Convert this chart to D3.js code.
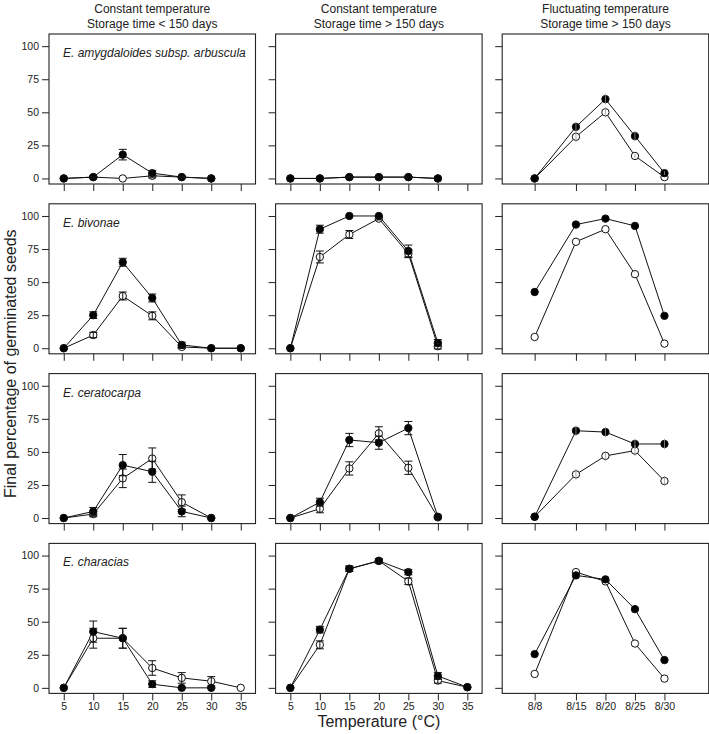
<!DOCTYPE html>
<html>
<head>
<meta charset="utf-8">
<script src="https://cdnjs.cloudflare.com/ajax/libs/d3/7.8.5/d3.min.js"></script>
<style>
  body { margin: 0; background: #fff; }
  svg text { font-family: "Liberation Sans", Arial, sans-serif; fill: #222; }
</style>
</head>
<body>
<div class="container"></div>
<script>
const SPECIES = ["E. amygdaloides subsp. arbuscula", "E. bivonae", "E. ceratocarpa", "E. characias"];
const COL_TITLES = [
  ["Constant temperature", "Storage time < 150 days"],
  ["Constant temperature", "Storage time > 150 days"],
  ["Fluctuating temperature", "Storage time > 150 days"]
];
const CONST_TEMPS = [5, 10, 15, 20, 25, 30, 35];
const FLUCT_POS = [8, 15, 20, 25, 30];
const FLUCT_LABELS = ["8/8", "8/15", "8/20", "8/25", "8/30"];
const Y_TICKS = [0, 25, 50, 75, 100];

// column 1: constant temperature, storage < 150 days (null = not tested)
const FILLED_C1 = [
  [0, 1, 18, 4, 1, 0, null],
  [0, 25, 65, 38, 2.5, 0, 0],
  [0, 5, 40, 35, 5, 0, null],
  [0, 42.5, 37.5, 2.8, 0, 0, null]
];
const FILLED_C1_SE = [
  [0, 0.8, 4, 2, 0.8, 0, null],
  [0, 2.5, 3, 3, 2, 0, 0],
  [0, 3, 8, 8, 4, 0, null],
  [0, 8, 7.5, 2.5, 0.5, 0.5, null]
];
const OPEN_C1 = [
  [0, 1, 0, 2, 1, 0, null],
  [0, 10, 39.5, 24.5, 1, 0, 0],
  [0, 3, 30, 45, 12, 0, null],
  [0, 37.5, 37.5, 15, 7.5, 5, 0]
];
const OPEN_C1_SE = [
  [0, 0.5, 0, 1.5, 0.5, 0, null],
  [0, 2, 3, 3, 1, 0, 0],
  [0, 2, 7, 8, 5.5, 0, null],
  [0, 7.5, 7.5, 5.5, 4, 3.5, 0]
];

// column 2: constant temperature, storage > 150 days
const FILLED_C2 = [
  [0, 0, 1, 1, 1, 0, null],
  [0, 90, 100, 100, 73.5, 4, null],
  [0, 12, 59, 57, 68, 1, null],
  [0, 44, 90, 96, 87.5, 9, 0.5]
];
const FILLED_C2_SE = [
  [0, 0, 0.5, 0.5, 0.5, 0, null],
  [0, 3, 0, 0, 4.5, 2.5, null],
  [0, 3, 5, 5, 5, 1, null],
  [0, 2.5, 2, 1.5, 2, 2.5, 0]
];
const OPEN_C2 = [
  [0, 0, 1, 1, 1, 0, null],
  [0, 69, 86, 98, 71.5, 1.5, null],
  [0, 7, 37.5, 64, 38, 0.5, null],
  [0, 32.5, 90, 96, 80.5, 5.5, 0.5]
];
const OPEN_C2_SE = [
  [0, 0, 0.5, 0.5, 0.5, 0, null],
  [0, 4.5, 3, 1, 3, 2, null],
  [0, 3, 5, 5, 5, 1, null],
  [0, 3, 2, 1.5, 2.5, 2, 0]
];

// column 3: fluctuating temperature, storage > 150 days
const FILLED_C3 = [
  [0, 39, 60, 32, 4],
  [42.5, 93.5, 98, 92.5, 24.5],
  [1, 66, 65, 56, 56],
  [25.5, 85, 82, 59.5, 21]
];
const FILLED_C3_SE = [
  [0, 3.5, 3.5, 3.5, 1],
  [0, 0, 0, 0, 0],
  [0, 3.5, 3.5, 3.5, 3.5],
  [0, 0, 0, 0, 0]
];
const OPEN_C3 = [
  [0, 31.5, 50, 17, 1],
  [8.5, 80.5, 90, 56, 3.5],
  [1, 33, 47, 51, 28],
  [10.5, 87.5, 80.5, 33.5, 7]
];
const OPEN_C3_SE = [
  [0, 3.5, 3.5, 1, 0],
  [0, 0, 0, 0, 0],
  [0, 3.5, 3.5, 3.5, 3.5],
  [0, 0, 0, 0, 0]
];

const W = 709, H = 734;
const PANEL_W = 206.5, PANEL_H = 150;
const COL_X = [49, 275.6, 502.2];
const ROW_Y = [34, 203.8, 373.6, 543.4];
const R = 3.7;

const svg = d3.select(".container").append("svg")
  .attr("width", W)
  .attr("height", H);

// helper to zip x positions with means/se, skipping untested temps
function points(xs, mean, se) {
  return xs.map((x, i) => ({x: x, y: mean[i], se: se[i]})).filter(d => d.y !== null);
}

const COLS = [
  {xs: CONST_TEMPS, ticks: CONST_TEMPS, labels: CONST_TEMPS.map(String), filled: FILLED_C1, filledSe: FILLED_C1_SE, open: OPEN_C1, openSe: OPEN_C1_SE, cap: 4, ebColor: "#111"},
  {xs: CONST_TEMPS, ticks: CONST_TEMPS, labels: CONST_TEMPS.map(String), filled: FILLED_C2, filledSe: FILLED_C2_SE, open: OPEN_C2, openSe: OPEN_C2_SE, cap: 4, ebColor: "#111"},
  {xs: FLUCT_POS, ticks: FLUCT_POS, labels: FLUCT_LABELS, filled: FILLED_C3, filledSe: FILLED_C3_SE, open: OPEN_C3, openSe: OPEN_C3_SE, cap: 0.5, ebColor: "#999"}
];

COLS.forEach((col, c) => {
  // column titles
  svg.append("text")
    .attr("x", COL_X[c] + PANEL_W / 2)
    .attr("y", 13)
    .attr("text-anchor", "middle")
    .attr("font-size", "12px")
    .text(COL_TITLES[c][0]);
  svg.append("text")
    .attr("x", COL_X[c] + PANEL_W / 2)
    .attr("y", 28)
    .attr("text-anchor", "middle")
    .attr("font-size", "12px")
    .text(COL_TITLES[c][1]);

  SPECIES.forEach((sp, r) => {
    let x0 = COL_X[c], y0 = ROW_Y[r];
    let x = d3.scaleLinear().domain([2.5, 37.5]).range([x0, x0 + PANEL_W]);
    let y = d3.scaleLinear().domain([-4.2, 109.2]).range([y0 + PANEL_H, y0]);

    let g = svg.append("g");

    // axes
    let yAxis = g.append("g")
      .attr("transform", `translate(${x0},0)`)
      .call(d3.axisLeft(y).tickValues(Y_TICKS).tickSize(7).tickPadding(3)
        .tickFormat(c === 0 ? d3.format("d") : ""));
    let xAxis = g.append("g")
      .attr("transform", `translate(0,${y0 + PANEL_H})`)
      .call(d3.axisBottom(x).tickValues(col.ticks).tickSize(7).tickPadding(2)
        .tickFormat((d, i) => r === SPECIES.length - 1 ? col.labels[i] : ""));
    [yAxis, xAxis].forEach(a => {
      a.select(".domain").remove();
      a.selectAll("line").attr("stroke", "#222");
      a.selectAll("text").attr("font-size", "10.5px").attr("fill", "#222")
        .attr("font-family", "'Liberation Sans', Arial, sans-serif");
    });

    g.append("rect")
      .attr("x", x0).attr("y", y0)
      .attr("width", PANEL_W).attr("height", PANEL_H)
      .attr("fill", "none")
      .attr("stroke", "#222")
      .attr("stroke-width", 1.1);

    // species label
    if (c === 0) {
      g.append("text")
        .attr("x", x0 + 14)
        .attr("y", y0 + 23)
        .attr("font-size", "12px")
        .attr("font-style", "italic")
        .text(sp);
    }

    let series = [
      {pts: points(col.xs, col.open[r], col.openSe[r]), fill: "#fff"},
      {pts: points(col.xs, col.filled[r], col.filledSe[r]), fill: "#000"}
    ];

    let line = d3.line().x(d => x(d.x)).y(d => y(d.y));

    series.forEach(s => {
      g.append("path")
        .datum(s.pts)
        .attr("d", line)
        .attr("fill", "none")
        .attr("stroke", "#111")
        .attr("stroke-width", 1);
    });

    series.forEach(s => {
      g.append("g").selectAll("circle")
        .data(s.pts)
        .enter().append("circle")
        .attr("cx", d => x(d.x))
        .attr("cy", d => y(d.y))
        .attr("r", R)
        .attr("fill", s.fill)
        .attr("stroke", "#111")
        .attr("stroke-width", 1);
    });

    // error bars sit on top of the symbols (drawn last)
    series.forEach(s => {
      let eb = g.append("g").selectAll("g")
        .data(s.pts.filter(d => d.se > 0))
        .enter().append("g")
        .attr("stroke", col.ebColor)
        .attr("stroke-width", c === 2 ? 0.8 : 1);
      eb.append("line")
        .attr("x1", d => x(d.x)).attr("x2", d => x(d.x))
        .attr("y1", d => y(d.y - d.se)).attr("y2", d => y(d.y + d.se));
      eb.append("line")
        .attr("x1", d => x(d.x) - col.cap).attr("x2", d => x(d.x) + col.cap)
        .attr("y1", d => y(d.y + d.se)).attr("y2", d => y(d.y + d.se));
      eb.append("line")
        .attr("x1", d => x(d.x) - col.cap).attr("x2", d => x(d.x) + col.cap)
        .attr("y1", d => y(d.y - d.se)).attr("y2", d => y(d.y - d.se));
    });
  });
});

// shared axis titles
svg.append("text")
  .attr("transform", `translate(16,${(ROW_Y[0] + ROW_Y[3] + PANEL_H) / 2}) rotate(-90)`)
  .attr("text-anchor", "middle")
  .attr("font-size", "16px")
  .text("Final percentage of germinated seeds");

svg.append("text")
  .attr("x", COL_X[1] + PANEL_W / 2)
  .attr("y", 727)
  .attr("text-anchor", "middle")
  .attr("font-size", "16px")
  .text("Temperature (°C)");
</script>
</body>
</html>
